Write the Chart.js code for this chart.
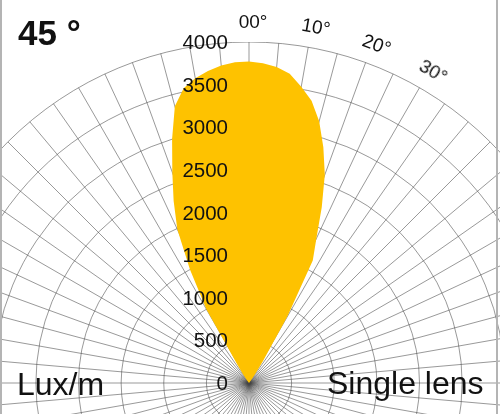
<!DOCTYPE html>
<html>
<head>
<meta charset="utf-8">
<script src="https://cdn.jsdelivr.net/npm/chart.js@4/dist/chart.umd.min.js"></script>
<style>
  html, body { margin: 0; padding: 0; background: #fff; }
  #wrap { position: relative; width: 500px; height: 414px; overflow: hidden; background: #fff; }
  #polar { position: absolute; left: -92px; top: 42px; }
  .frame { position: absolute; top: 0; width: 2px; height: 414px; background: #b4b4b4; }
  .lbl { position: absolute; white-space: nowrap; line-height: 1; color: #111;
         font-family: "Liberation Sans", Arial, sans-serif; }
  .tick { font-size: 20.5px; transform: translate(-100%, -50%); }
  .deg { font-size: 19px; transform-origin: 0 0; }
  #title { left: 18px; top: 15px; font-size: 35px; font-weight: bold; }
  #unit { left: 17px; top: 368px; font-size: 32px; }
  #lens { left: 327px; top: 367px; font-size: 32px; }
</style>
</head>
<body>
<div id="wrap">
  <canvas id="polar" width="682" height="682"></canvas>
  <div class="frame" style="left:0"></div>
  <div class="frame" style="left:496px"></div>
  <div class="lbl" id="title">45 °</div>
  <div class="lbl" id="unit">Lux/m</div>
  <div class="lbl" id="lens">Single lens</div>
</div>
<script>
// spokes every 2.5 deg, only every 5 deg one is drawn
const SPOKE_STEP = 2.5;
const ANGLE_LABELS = Array.from({ length: 360 / SPOKE_STEP }, (_, i) => i * SPOKE_STEP);

// light distribution (deg from vertical, clockwise)
const LOBE_ANGLES = [-37.5, -35, -32.5, -30, -27.5, -25, -22.5, -20, -17.5, -15, -12.5, -10,
                     -7.5, -5, -2.5, 0, 2.5, 5, 7.5, 10, 12.5, 15, 17.5, 20, 22.5, 25, 27.5,
                     30, 32.5, 35, 37.5];
const LOBE_LUX = [50, 120, 250, 1000, 1500, 1990, 2310, 2630, 3000, 3360, 3540, 3630,
                  3690, 3740, 3765, 3770, 3755, 3720, 3660, 3530, 3390, 3180, 2900, 2600, 2230, 1870, 1620,
                  900, 300, 120, 50];

const LUX_TICKS = [0, 500, 1000, 1500, 2000, 2500, 3000, 3500, 4000];
const DEGREE_TICKS = [0, 10, 20, 30];
const DEGREE_TEXT = ['00°', '10°', '20°', '30°'];

const GRID = 'rgba(70, 70, 70, 0.55)';
const LOBE_COLOR = '#FEC200';

const luxByAngle = {};
LOBE_ANGLES.forEach((a, i) => { luxByAngle[(a + 360) % 360] = LOBE_LUX[i]; });
const series = ANGLE_LABELS.map(a => luxByAngle[a] || 0);

const canvas = document.getElementById('polar');
const chart = new Chart(canvas.getContext('2d'), {
    type: 'radar',
    data: {
        labels: ANGLE_LABELS,
        datasets: [{
            data: series,
            fill: 'origin',
            backgroundColor: LOBE_COLOR,
            borderWidth: 0,
            borderColor: 'transparent',
            pointRadius: 0,
            tension: 0
        }]
    },
    options: {
        responsive: false,
        animation: false,
        devicePixelRatio: 1,
        layout: { padding: 0 },
        plugins: { legend: { display: false }, tooltip: { enabled: false } },
        scales: {
            r: {
                min: 0,
                max: 4000,
                ticks: { display: false, stepSize: 500, z: 1 },
                grid: { circular: true, color: GRID, lineWidth: 1 },
                angleLines: {
                    color: GRID,
                    lineWidth: (ctx) => (ctx.index % 2 ? 0 : 1)
                },
                pointLabels: { display: false }
            }
        }
    }
});

// labels placed from the radial scale geometry
const wrap = document.getElementById('wrap');
const scale = chart.scales.r;
const ox = canvas.offsetLeft;
const oy = canvas.offsetTop;

LUX_TICKS.forEach(v => {
    const el = document.createElement('div');
    el.className = 'lbl tick';
    el.textContent = String(v);
    el.style.left = (ox + scale.xCenter - 21) + 'px';
    el.style.top = (oy + scale.yCenter - scale.getDistanceFromCenterForValue(v)) + 'px';
    wrap.appendChild(el);
});

DEGREE_TICKS.forEach((deg, i) => {
    const p = scale.getPointPosition(ANGLE_LABELS.indexOf(deg), scale.drawingArea + 21);
    const el = document.createElement('div');
    el.className = 'lbl deg';
    el.textContent = DEGREE_TEXT[i];
    el.style.left = (ox + p.x) + 'px';
    el.style.top = (oy + p.y) + 'px';
    el.style.transform = `rotate(${deg}deg) translate(calc(-50% + 4px), -50%)`;
    wrap.appendChild(el);
});
</script>
</body>
</html>
